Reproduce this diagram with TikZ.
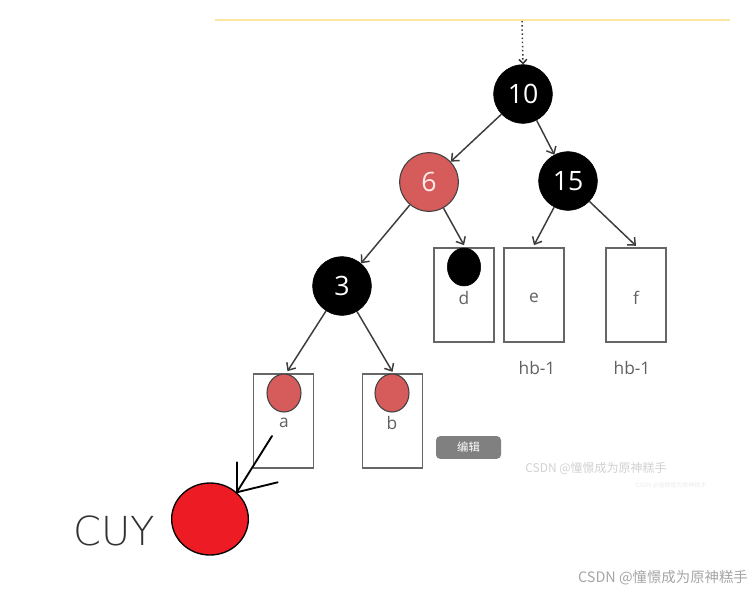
\documentclass[tikz,border=0pt]{standalone}
\usepackage{fontspec}
\setmainfont{Open Sans}
\newfontfamily\cjk{Noto Sans CJK SC}
\newfontfamily\handfont{DejaVu Sans ExtraLight}
\usetikzlibrary{arrows.meta,shapes.geometric}
\definecolor{nodered}{HTML}{D65B5B}
\definecolor{bigred}{HTML}{ED1C24}
\definecolor{boxgray}{HTML}{666666}
\definecolor{edgegray}{HTML}{3C3C3C}
\definecolor{lineyellow}{HTML}{FCE6A4}
\definecolor{btngray}{HTML}{808080}
\tikzset{
  blknode/.style={circle, fill=black, draw=black, minimum size=44pt, inner sep=0pt,
    text=white, font=\fontsize{20}{20}\selectfont},
  rednode/.style={circle, fill=nodered, draw=black!75, line width=0.8pt, minimum size=44pt, inner sep=0pt,
    text=white!92!red, font=\fontsize{20}{20}\selectfont},
  leafbox/.style={rectangle, draw=boxgray, line width=1.3pt, minimum width=45pt, minimum height=70.5pt, inner sep=0pt},
  blkdot/.style={ellipse, fill=black, draw=black, minimum width=25pt, minimum height=28.5pt, inner sep=0pt},
  reddot/.style={ellipse, fill=nodered, draw=black!75, line width=0.8pt, minimum width=25.5pt, minimum height=28.5pt, inner sep=0pt},
  leaflabel/.style={text=black!62, font=\fontsize{13}{13}\selectfont, inner sep=0pt},
  edge/.style={draw=edgegray, line width=1.1pt, -{Straight Barb[length=4.5pt,width=8pt]}},
  hand/.style={draw=black, line width=1.4pt, line cap=round},
}
\begin{document}
\begin{tikzpicture}[x=0.75pt,y=-0.75pt]
\useasboundingbox (0,0) rectangle (756,593);
% top line and entry arrow
\coordinate (yl) at (215,20);
\coordinate (yr) at (730,20);
\coordinate (entry) at (522,21);
\draw[lineyellow, line width=1.5pt] (yl) -- (yr);
% tree nodes
\node[blknode] (n10) at (523,94) {10};
\node[rednode] (n6) at (429,182) {6};
\node[blknode] (n15) at (568,181) {15};
\node[blknode] (n3) at (342,286) {3};
\draw[black!80, line width=1.1pt, dotted, -{Straight Barb[length=3pt,width=6pt]}] (entry) -- (n10.north);
% leaf boxes
\node[leafbox] (bd) at (464,295) {};
\node[leafbox] (be) at (534,295) {};
\node[leafbox] (bf) at (636,295) {};
\node[leafbox] (ba) at (283.5,421) {};
\node[leafbox] (bb) at (392.5,421) {};
\node[blkdot] (dd) at (464,267) {};
\node[reddot] (da) at (284,393) {};
\node[reddot] (db) at (392,393) {};
\node[leaflabel] (ld) at (464,298) {d};
\node[leaflabel] (le) at (534,298) {e};
\node[leaflabel] (lf) at (636,298) {f};
\node[leaflabel] (la) at (284,423) {a};
\node[leaflabel] (lb) at (392,423) {b};
\node[leaflabel] (h1) at (537,368) {hb-1};
\node[leaflabel] (h2) at (632,368) {hb-1};
% edges
\draw[edge] (n10) -- (n6);
\draw[edge] (n10) -- (n15);
\draw[edge] (n6) -- (n3);
\draw[edge] (n6) -- ([yshift=1.5pt]bd.north);
\draw[edge] (n15) -- ([yshift=1.5pt]be.north);
\draw[edge] (n15) -- ([yshift=1pt]bf.north);
\draw[edge] (n3) -- ([xshift=3pt,yshift=1.5pt]ba.north);
\draw[edge] (n3) -- ([yshift=1pt]bb.north);
% edit button
\node[rectangle, rounded corners=3pt, fill=btngray, minimum width=48.75pt, minimum height=17pt, inner sep=0pt,
  text=white, font=\cjk\fontsize{8.5}{8.5}\selectfont] (btn) at (468.5,447.5) {编辑};
% watermarks
\node[text=black!18, font=\cjk\fontsize{9}{9}\selectfont, inner sep=0pt] (wm1) at (596,468) {CSDN @憧憬成为原神糕手};
\node[text=black!8, font=\cjk\fontsize{4.5}{4.5}\selectfont, inner sep=0pt] (wm2) at (671,485) {CSDN @憧憬成为原神糕手};
\node[text=black!35, font=\cjk\fontsize{10.8}{10.8}\selectfont, inner sep=0pt] (wm3) at (663,578) {CSDN @憧憬成为原神糕手};
% inserted red node with hand-drawn arrow
\node[ellipse, fill=bigred, draw=black, line width=1pt, minimum width=57.5pt, minimum height=54pt, inner sep=0pt] (big) at (210,519) {};
\coordinate (hs) at (272,436);
\draw[hand] (hs) -- (big.45);
\draw[hand] (big.45) -- ++(0,-30);
\draw[hand] (big.45) -- ++(41,-10);
\node[text=black!80, font=\handfont\fontsize{30}{30}\selectfont, inner sep=0pt] (cuy) at (114,531) {CUY};
\end{tikzpicture}
\end{document}
